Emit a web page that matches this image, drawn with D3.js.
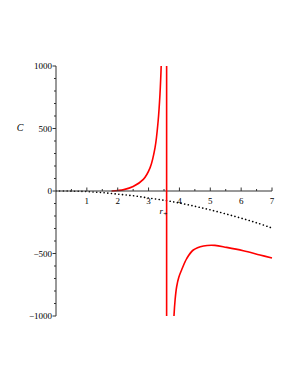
<!DOCTYPE html>
<html>
<head>
<meta charset="utf-8">
<script src="https://cdn.jsdelivr.net/npm/d3@7"></script>
<style>
  body { margin: 0; background: #fff; }
  svg { display: block; }
</style>
</head>
<body>
<div id="chart"></div>
<script>
// values
const xTicks = [1, 2, 3, 4, 5, 6, 7];
const xMinor = [0.5, 1.5, 2.5, 3.5, 4.5, 5.5, 6.5];
const yTicks = [-1000, -500, 0, 500, 1000];
const yMinor = [-900, -800, -700, -600, -400, -300, -200, -100, 100, 200, 300, 400, 600, 700, 800, 900];
const rPlus = 3.585;

const leftBranch = [
  [1.8, 0], [2.0, 4], [2.2, 11], [2.5, 36], [2.83, 93], [3.05, 187],
  [3.21, 347], [3.31, 560], [3.37, 776], [3.41, 1008], [3.43, 1200]
];
const rightBranch = [
  [3.79, -1250], [3.82, -1016], [3.86, -870], [3.91, -766], [3.98, -690],
  [4.07, -632], [4.24, -539], [4.45, -472], [4.78, -440], [5.15, -435],
  [5.53, -451], [6.07, -478], [6.61, -512], [7.0, -536]
];
const dotted = [
  [0, 0], [0.5, -1], [1, -5], [1.5, -13], [2, -25], [2.5, -38], [3, -56],
  [3.5, -74], [4, -96], [4.5, -122], [5, -151], [5.5, -183], [6, -217],
  [6.5, -254], [7, -296]
];

const width = 295, height = 382;

const x = d3.scaleLinear().domain([0, 7]).range([56, 272]);
const y = d3.scaleLinear().domain([-1000, 1000]).range([316, 66]);

const svg = d3.select("#chart").append("svg")
  .attr("width", width)
  .attr("height", height)
  .style("font-family", "'Liberation Serif', 'DejaVu Serif', serif");

svg.append("defs").append("clipPath").attr("id", "plot")
  .append("rect")
  .attr("x", x(0)).attr("y", y(1000))
  .attr("width", x(7) - x(0) + 2).attr("height", y(-1000) - y(1000));

const line = d3.line()
  .x(d => x(d[0]))
  .y(d => y(d[1]))
  .curve(d3.curveCatmullRom.alpha(0.5));

const curves = svg.append("g").attr("clip-path", "url(#plot)");

curves.append("path")
  .datum(dotted)
  .attr("fill", "none")
  .attr("stroke", "#000")
  .attr("stroke-width", 1.6)
  .attr("stroke-linecap", "round")
  .attr("stroke-dasharray", "0.1,3.6")
  .attr("d", line);

// axes
const ax = svg.append("g").attr("stroke", "#333").attr("stroke-width", 1);
ax.append("line")
  .attr("x1", x(0)).attr("x2", x(7))
  .attr("y1", y(0)).attr("y2", y(0));
ax.append("line")
  .attr("x1", x(0)).attr("x2", x(0))
  .attr("y1", y(1000)).attr("y2", y(-1000));

ax.selectAll(".xt").data(xTicks).join("line")
  .attr("x1", d => x(d)).attr("x2", d => x(d))
  .attr("y1", y(0)).attr("y2", y(0) - 3.5);
ax.selectAll(".xm").data(xMinor).join("line")
  .attr("x1", d => x(d)).attr("x2", d => x(d))
  .attr("y1", y(0)).attr("y2", y(0) - 2);
ax.selectAll(".yt").data(yTicks).join("line")
  .attr("x1", x(0) - 3.5).attr("x2", x(0))
  .attr("y1", d => y(d)).attr("y2", d => y(d));
ax.selectAll(".ym").data(yMinor).join("line")
  .attr("x1", x(0) - 2).attr("x2", x(0))
  .attr("y1", d => y(d)).attr("y2", d => y(d));

svg.append("g")
  .attr("font-size", 9)
  .attr("text-anchor", "middle")
  .attr("fill", "#000")
  .selectAll("text").data(xTicks).join("text")
  .attr("x", d => x(d))
  .attr("y", y(0) + 13)
  .text(d => d);

svg.append("g")
  .attr("font-size", 9)
  .attr("text-anchor", "end")
  .attr("fill", "#000")
  .selectAll("text").data(yTicks).join("text")
  .attr("x", x(0) - 4)
  .attr("y", d => y(d) + 3)
  .text(d => d < 0 ? "\u2212" + Math.abs(d) : d);

// red curves on top
curves.append("path")
  .datum(leftBranch)
  .attr("fill", "none")
  .attr("stroke", "#ff0000")
  .attr("stroke-width", 1.6)
  .attr("d", line);

curves.append("path")
  .datum(rightBranch)
  .attr("fill", "none")
  .attr("stroke", "#ff0000")
  .attr("stroke-width", 1.6)
  .attr("d", line);

svg.append("line")
  .attr("x1", x(rPlus)).attr("x2", x(rPlus))
  .attr("y1", y(1000)).attr("y2", y(-1000))
  .attr("stroke", "#ff0000")
  .attr("stroke-width", 1.6);

// labels
svg.append("text")
  .attr("x", 20).attr("y", 131)
  .attr("font-size", 10)
  .attr("font-style", "italic")
  .attr("text-anchor", "middle")
  .text("C");

const rl = svg.append("text")
  .attr("x", x(rPlus) - 7).attr("y", 214)
  .attr("font-size", 9)
  .attr("font-style", "italic");
rl.append("tspan").text("r");
rl.append("tspan").attr("dy", 2).attr("font-size", 7).attr("font-style", "normal").text("+");
</script>
</body>
</html>
